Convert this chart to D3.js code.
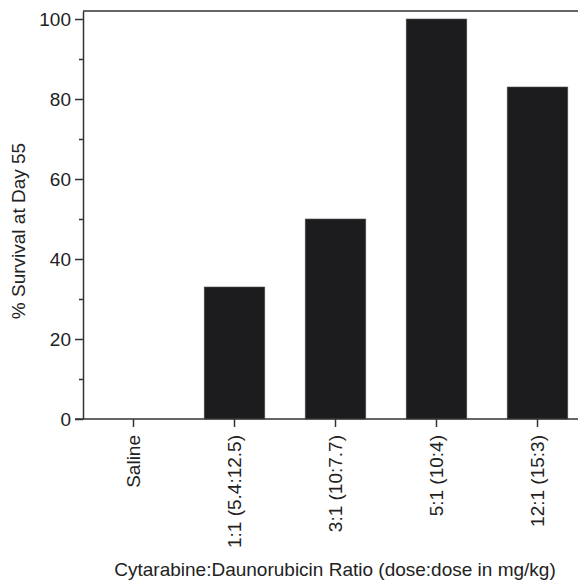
<!DOCTYPE html>
<html>
<head>
<meta charset="utf-8">
<script src="https://cdn.jsdelivr.net/npm/d3@7"></script>
<style>
  body { margin: 0; background: #fff; }
  svg { display: block; font-family: "Liberation Sans", Arial, sans-serif; }
</style>
</head>
<body>
<div class="canvas"></div>
<script>
// data
const categories = ['Saline', '1:1 (5.4:12.5)', '3:1 (10:7.7)', '5:1 (10:4)', '12:1 (15:3)'];
const survival = [0, 33, 50, 100, 83];
const majorTicks = [0, 20, 40, 60, 80, 100];
const minorTicks = [10, 30, 50, 70, 90];

const dims = { width: 578, height: 583 };
const margin = { left: 83, top: 11, bottom: 419, right: 588 };
const ink = '#333';

const svg = d3.select('.canvas')
    .append('svg')
    .attr('width', dims.width)
    .attr('height', dims.height);

const x = d3.scaleBand()
    .domain(categories)
    .range([margin.left, margin.right])
    .paddingInner(0.4)
    .paddingOuter(0.2);

const y = d3.scaleLinear()
    .domain([0, 102])
    .range([margin.bottom, margin.top]);

// bars
svg.append('g')
    .selectAll('rect')
    .data(categories.map((c, i) => ({ name: c, value: survival[i] })))
    .enter()
    .append('rect')
        .attr('x', d => x(d.name))
        .attr('y', d => y(d.value))
        .attr('width', x.bandwidth())
        .attr('height', d => y(0) - y(d.value))
        .attr('fill', '#1c1b1d')
        .attr('stroke', '#555')
        .attr('stroke-width', 0.6);

// frame top line
svg.append('line')
    .attr('x1', margin.left).attr('x2', margin.right)
    .attr('y1', margin.top).attr('y2', margin.top)
    .attr('stroke', ink).attr('stroke-width', 1.5);

// left axis
const yAxis = svg.append('g')
    .attr('transform', `translate(${margin.left},0)`)
    .call(d3.axisLeft(y).tickValues(majorTicks).tickSize(8).tickPadding(4).tickSizeOuter(0));

svg.append('g')
    .attr('transform', `translate(${margin.left},0)`)
    .call(d3.axisLeft(y).tickValues(minorTicks).tickSize(4).tickFormat('').tickSizeOuter(0))
    .select('.domain').remove();

// right axis (mostly off-page, only inner ticks peek in)
svg.append('g')
    .attr('transform', `translate(${margin.right},0)`)
    .call(d3.axisLeft(y).tickValues(majorTicks).tickSize(-10).tickFormat('').tickSizeOuter(0))
    .selectAll('line').attr('stroke', '#999');

// bottom axis
const xAxis = svg.append('g')
    .attr('transform', `translate(0,${margin.bottom})`)
    .call(d3.axisBottom(x).tickSize(8).tickPadding(8).tickSizeOuter(0));

xAxis.select('.domain').attr('d', `M${margin.left - 8},0H${margin.right}`);

xAxis.selectAll('text')
    .attr('transform', 'rotate(-90)')
    .attr('text-anchor', 'end')
    .attr('x', -16)
    .attr('y', 0)
    .attr('dy', '0.35em');

svg.selectAll('.domain, .tick line').attr('stroke', ink).attr('stroke-width', 1.5);
svg.selectAll('.tick text').attr('font-size', 19).attr('font-family', 'Liberation Sans, Arial, sans-serif').attr('fill', '#222');

// axis labels
svg.append('text')
    .attr('transform', 'translate(25, 231) rotate(-90)')
    .attr('text-anchor', 'middle')
    .attr('font-size', 19)
    .attr('fill', '#222')
    .text('% Survival at Day 55');

svg.append('text')
    .attr('x', 335)
    .attr('y', 576)
    .attr('text-anchor', 'middle')
    .attr('font-size', 19)
    .attr('fill', '#222')
    .text('Cytarabine:Daunorubicin Ratio (dose:dose in mg/kg)');
</script>
</body>
</html>
